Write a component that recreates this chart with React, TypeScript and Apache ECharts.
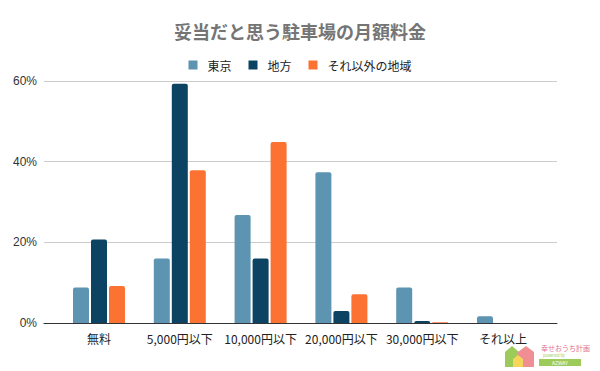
import React, { useEffect, useRef } from "react";
import * as echarts from "echarts";

const categories = ["無料", "5,000円以下", "10,000円以下", "20,000円以下", "30,000円以下", "それ以上"];
const seriesNames = ["東京", "地方", "それ以外の地域"];
const tokyo = [8.8, 16.0, 26.8, 37.4, 8.8, 1.7];
const chiho = [20.7, 59.3, 16.0, 3.0, 0.5, 0];
const other = [9.2, 37.9, 44.9, 7.1, 0.2, 0];
const yTicks = [0, 20, 40, 60];
const colors = ["#5d94b1", "#0c4363", "#fb7233"];

const FONT = "'Noto Sans CJK JP', 'Noto Sans', sans-serif";

export default function App() {
  const ref = useRef<HTMLDivElement>(null);
  useEffect(() => {
    if (!ref.current) return;
    const chart = echarts.init(ref.current, undefined, { renderer: "svg" });
    const values = [tokyo, chiho, other];
    chart.setOption({
      animation: false,
      backgroundColor: "#ffffff",
      textStyle: { fontFamily: FONT },
      title: {
        text: "妥当だと思う駐車場の月額料金",
        left: "center",
        top: 17,
        textStyle: { fontSize: 18, fontWeight: "bold", color: "#757575", fontFamily: FONT },
      },
      legend: {
        top: 54,
        left: "center",
        icon: "rect",
        itemWidth: 9,
        itemHeight: 9,
        itemGap: 17,
        data: seriesNames,
        textStyle: { fontSize: 12, color: "#222", padding: [0, 0, 0, 5], fontFamily: FONT },
      },
      grid: [
        { left: 58.6, right: 56.6, top: 81, bottom: 48 },
        { left: 44, right: 43, top: 81, bottom: 48 },
      ],
      xAxis: [
        {
          type: "category",
          gridIndex: 0,
          data: categories,
          axisLine: { show: false },
          axisTick: { show: false },
          axisLabel: { color: "#222", fontSize: 12, margin: 9, interval: 0, fontFamily: FONT },
        },
        {
          type: "value",
          gridIndex: 1,
          min: 0,
          max: 1,
          axisLine: { show: true, lineStyle: { color: "#333", width: 1 } },
          axisTick: { show: false },
          axisLabel: { show: false },
          splitLine: { show: false },
        },
      ],
      yAxis: [
        {
          type: "value",
          gridIndex: 0,
          min: yTicks[0],
          max: yTicks[yTicks.length - 1],
          interval: 20,
          show: false,
          splitLine: { show: false },
        },
        {
          type: "value",
          gridIndex: 1,
          min: yTicks[0],
          max: yTicks[yTicks.length - 1],
          interval: 20,
          axisLine: { show: false },
          axisTick: { show: false },
          axisLabel: {
            formatter: "{value}%",
            color: "#333",
            fontSize: 12,
            margin: 7,
            fontFamily: "'Liberation Sans', Arial, sans-serif",
          },
          splitLine: { lineStyle: { color: "#cccccc", width: 1 } },
        },
      ],
      series: seriesNames.map((name, i) => ({
        name,
        type: "bar",
        xAxisIndex: 0,
        yAxisIndex: 0,
        data: values[i],
        barWidth: 16,
        barGap: "12.5%",
        itemStyle: { color: colors[i], borderRadius: [2, 2, 0, 0] },
      })),
      graphic: [
        {
          type: "group",
          left: 505,
          top: 344,
          children: [
            { type: "polygon", shape: { points: [[2, 8], [9, 2], [16, 8], [16, 23], [2, 23]] }, style: { fill: "#9ccb5a" } },
            { type: "polygon", shape: { points: [[15, 8], [23, 2], [31, 8], [31, 23], [15, 23]] }, style: { fill: "#ef8f93" } },
            { type: "polygon", shape: { points: [[10, 15], [15, 11], [20, 15], [20, 23], [10, 23]] }, style: { fill: "#f5d55a" } },
            { type: "text", x: 38, y: 0, style: { text: "幸せおうち計画", fontSize: 7, fill: "#e4738f", fontFamily: FONT } },
            { type: "text", x: 40, y: 9, style: { text: "powered by", fontSize: 4, fill: "#9ccb5a", fontFamily: FONT } },
            { type: "rect", shape: { x: 36, y: 15, width: 42, height: 7 }, style: { fill: "#9ccb5a" } },
            { type: "text", x: 57, y: 18.5, style: { text: "AZWAY", fontSize: 5, fill: "#ffffff", align: "center", verticalAlign: "middle", fontFamily: FONT } },
          ],
        },
      ],
    });
    return () => chart.dispose();
  }, []);
  return <div ref={ref} style={{ position: "absolute", left: 0, top: 0, width: 600, height: 371 }} />;
}
